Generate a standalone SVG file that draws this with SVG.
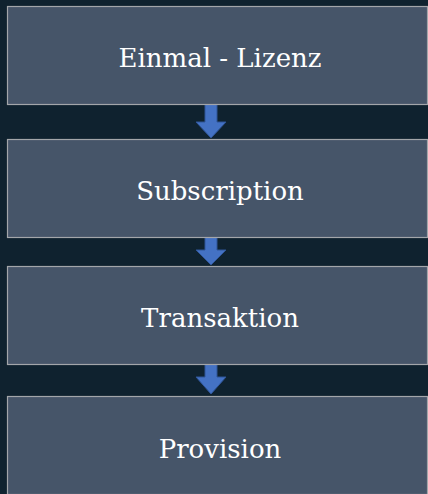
<svg xmlns="http://www.w3.org/2000/svg" width="428" height="494" viewBox="0 0 428 494">
<style>
.box{fill:#465569;stroke:#a3a6aa;stroke-width:1.2}
.lbl{font-family:"DejaVu Serif","Liberation Serif",serif;font-size:26px;fill:#ffffff;text-anchor:middle}
.arr{fill:#4472c4;stroke:#2f5597;stroke-width:1}
</style>
<rect width="428" height="494" fill="#0f222f"/>
<g id="connectors">
<path class="arr" d="M205,104 H217 V122 H226 L211,138 L196,122 H205 Z"/>
<path class="arr" d="M205,237 H217 V250 H226 L211,265 L196,250 H205 Z"/>
<path class="arr" d="M205,364 H217 V377 H226 L211,394 L196,377 H205 Z"/>
</g>
<g id="n1"><rect class="box" x="7.5" y="6.5" width="420" height="98"/><text class="lbl" x="220" y="67">Einmal - Lizenz</text></g>
<g id="n2"><rect class="box" x="7.5" y="139.5" width="420" height="98"/><text class="lbl" x="220" y="200">Subscription</text></g>
<g id="n3"><rect class="box" x="7.5" y="266.5" width="420" height="98"/><text class="lbl" x="220" y="327">Transaktion</text></g>
<g id="n4"><rect class="box" x="7.5" y="396.5" width="420" height="98"/><text class="lbl" x="220" y="458">Provision</text></g>
</svg>
